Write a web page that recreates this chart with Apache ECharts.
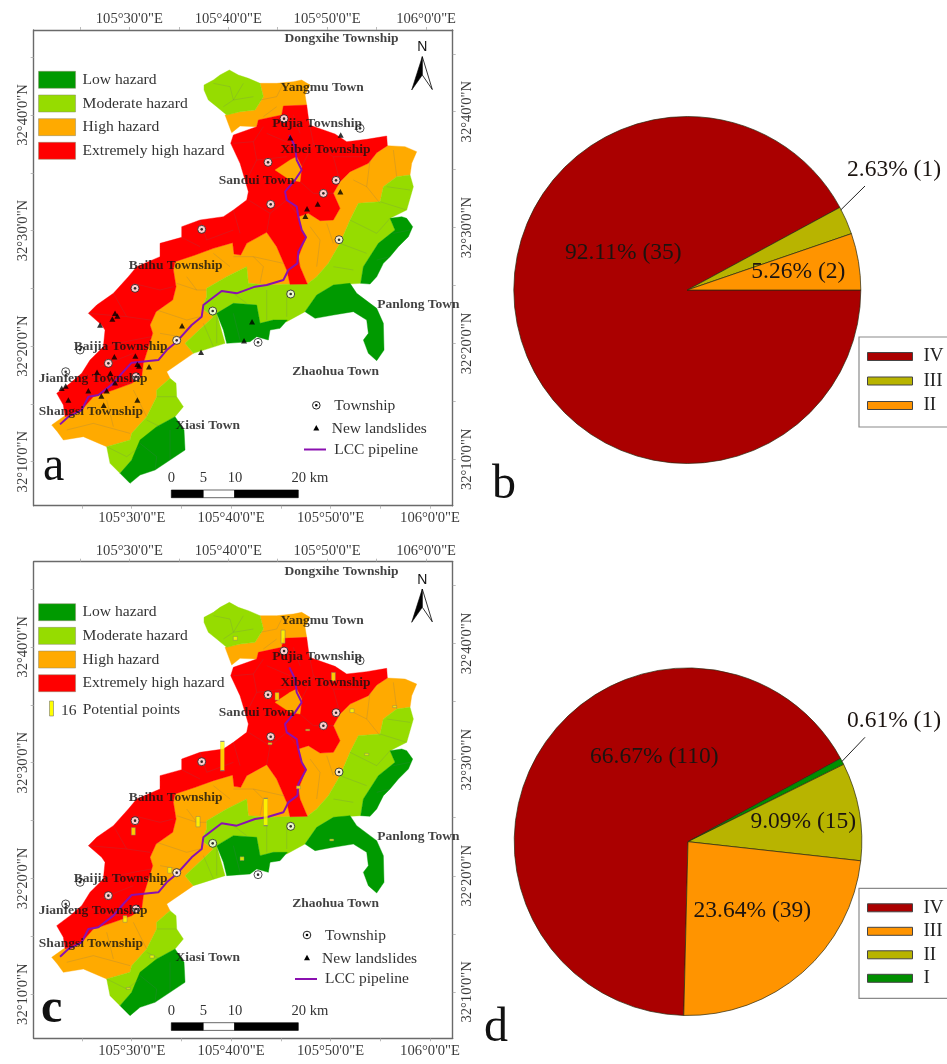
<!DOCTYPE html>
<html><head><meta charset="utf-8">
<style>html,body{margin:0;padding:0;background:#fff}#c{width:947px;height:1064px}</style>
<script src="https://cdn.jsdelivr.net/npm/echarts@6/dist/echarts.min.js"></script>
</head><body><div id="c"></div>
<script>
// ---- data (map units are a planar survey grid, y grows southwards) ----
const lowHazard = [
 [1170,655,1205,650,1220,655,1238,680,1225,710,1195,740,1170,770,1150,790,1130,830,1110,852,1082,850,1090,800,1135,730,1185,690],
 [915,935,950,885,1000,855,1050,850,1070,880,1130,925,1150,970,1152,1050,1130,1082,1105,1060,1090,1020,1105,1000,1100,960,1060,935,1000,945,945,955],
 [650,940,700,910,770,915,780,970,820,960,862,960,840,985,810,990,805,1020,770,1010,750,1025,680,1030,670,990],
 [525,1250,552,1290,555,1350,510,1380,465,1410,420,1425,390,1450,360,1420,395,1380,420,1320,470,1280]
];
const moderateHazard = [
 [612,255,640,240,660,225,688,210,715,225,745,235,780,250,790,290,765,330,720,335,680,345,650,320,625,300,612,270],
 [620,865,680,830,740,800,745,850,800,855,870,853,922,852,950,830,985,790,1020,730,1050,660,1075,610,1140,605,1150,560,1190,530,1230,525,1240,560,1220,630,1170,655,1185,690,1135,730,1090,800,1082,850,1000,855,950,885,915,935,860,965,820,960,780,970,770,915,700,910,650,940,675,1030,580,1060,555,1030,640,950,605,925,620,890],
 [510,1135,528,1150,530,1190,550,1220,525,1250,470,1280,440,1320,420,1340,395,1380,360,1420,330,1390,320,1340,390,1320,395,1300,440,1250,470,1190,470,1170]
];
const highHazard = [
 [780,250,830,250,880,245,905,240,930,255,915,285,920,315,850,318,845,345,775,360,770,380,720,378,695,398,675,345,720,335,765,330,790,290],
 [1162,437,1215,440,1250,455,1235,490,1230,525,1190,530,1150,560,1140,605,1075,610,1050,660,1020,730,985,790,950,830,922,852,900,800,895,770,918,712,905,690,895,650,925,640,960,662,1000,660,1020,625,1000,580,1020,545,1050,515,1105,490,1130,458],
 [525,785,640,745,698,728,702,762,722,765,740,730,800,697,830,740,860,810,870,853,800,855,745,850,740,800,680,830,620,865,620,890,605,925,640,950,555,1030,580,1060,500,1115,510,1135,470,1170,470,1190,440,1250,395,1300,390,1320,320,1340,250,1310,190,1320,172,1295,155,1275,190,1250,245,1230,280,1190,340,1170,395,1150,425,1130,430,1090,458,1000,450,975,468,935,518,900,528,860,520,810],
 [890,470,905,500,900,545,870,540,825,510,870,480]
];
const extremeHazard = [
 [850,318,920,315,928,375,1005,402,1040,425,1100,418,1160,408,1162,437,1130,458,1105,490,1050,515,1020,545,1000,580,1020,625,1000,660,960,662,925,640,895,650,905,690,918,712,895,770,900,800,922,852,870,853,860,810,830,740,800,697,740,730,722,765,702,762,698,728,640,745,585,765,525,785,520,810,528,860,518,900,468,935,450,975,458,1000,430,1090,425,1130,395,1150,340,1170,280,1190,245,1230,195,1250,190,1215,170,1180,210,1150,245,1120,270,1080,310,1040,315,990,305,975,265,940,290,915,340,880,385,830,410,800,480,770,480,730,545,712,545,680,600,660,670,650,700,630,740,600,745,575,735,540,720,490,692,430,700,405,770,380,775,360,845,345]
];
const streams = [
 [640,250,690,260,700,300,670,320],[700,300,760,290],[730,250,700,300],
 [780,300,830,290,850,250],[790,350,830,320],[700,430,760,425,790,380],[760,425,770,480,740,540],
 [800,400,870,430],[930,380,940,430,1000,470,1090,470],[940,430,905,500],[880,345,900,400],[770,480,860,470],
 [1000,470,1020,545],[900,545,940,580,1000,580],[745,600,810,640,860,600],[810,640,800,697],[860,600,890,640],
 [700,630,720,700],[600,660,620,720,700,690],[545,712,600,740],[400,850,480,870,520,860],[340,880,380,950,450,960],
 [265,940,380,950],[310,1040,400,1020,455,1010],[300,1100,400,1060],[245,1120,330,1150,395,1150],
 [560,830,590,870,620,870],[530,850,590,870],[470,930,560,960,600,950],[480,1000,540,1010],
 [760,770,790,800,780,850],[700,770,760,770,850,790],[640,760,690,800],[930,680,960,720,950,800],[980,670,1000,730],
 [1060,540,1100,560,1140,610],[1100,560,1110,480],[1180,450,1190,530],[1020,730,1100,760],[1050,660,1130,700,1170,655],
 [1140,605,1220,630],[1160,560,1230,570],[800,870,800,960],[860,870,860,950],[700,880,740,910],[610,970,640,1040],
 [650,950,650,1030],[1000,800,1060,810],[200,1290,280,1270,390,1300],[320,1200,340,1280],[400,1170,440,1250],
 [470,1190,530,1190],[320,1340,380,1370,420,1340],[440,1260,480,1280],[420,1330,470,1370,465,1410],[510,1290,510,1380],
 [700,940,720,1020],[1180,700,1230,690],[1130,780,1170,770]
];
const pipeline = [[868,405],[885,440],[890,480],[905,510],[885,540],[855,575],[860,600],[890,620],[895,650],[905,690],[918,712],[895,755],[892,790],[865,810],[850,840],[800,855],[765,860],[710,880],[665,873],[610,915],[605,950],[575,975],[530,1025],[500,1050],[475,1080],[395,1088],[370,1115],[340,1150],[295,1185],[265,1190],[245,1230],[205,1250],[180,1273]];
const townships = [[852,356],[1080,385],[804,487],[1008,541],[970,580],[812,613],[605,688],[1017,719],[405,865],[872,882],[638,933],[530,1021],[774,1027],[240,1050],[325,1090],[197,1115],[408,1130],[100,1265]];
const newLandslides = [[871,413],[1022,405],[1021,575],[953,612],[921,626],[916,649],[345,940],[352,948],[337,957],[300,975],[546,977],[756,965],[732,1022],[603,1057],[343,1070],[406,1068],[412,1093],[417,1098],[447,1100],[291,1117],[331,1120],[345,1148],[197,1158],[185,1165],[265,1172],[320,1172],[304,1188],[205,1200],[412,1200],[311,1216]];
const potentialPoints = [[706,318,4],[849,313,14],[1000,433,9],[831,492,8],[1056,535,4],[1184,523,2],[923,593,1],[810,634,2],[667,671,31],[1100,666,2],[895,765,3],[797,839,29],[594,868,11],[400,897,8],[995,923,2],[726,979,4],[509,1014,6],[375,1160,7],[456,1273,3],[385,1368,1]];
const placeNames = ['Dongxihe Township','Yangmu Town','Pujia Township','Xibei Township','Sandui Town','Baihu Township','Panlong Town','Baijia Township','Zhaohua Town','Jianfeng Township','Shangsi Township','Xiasi Town'];
const placeCoords = [[852,116],[840,264],[815,372],[840,450],[655,542],[385,796],[1130,912],[220,1038],[875,1113],[115,1135],[115,1235],[525,1275]];
const lonTicks = [30,40,50,60];
const lonLabels = ['105°30\'0"E','105°40\'0"E','105°50\'0"E','106°0\'0"E'];
const lonMinor = [25,30,35,40,45,50,55,60];
const latTicks = [10,20,30,40];
const latLabels = ['32°10\'0"N','32°20\'0"N','32°30\'0"N','32°40\'0"N'];
const latMinor = [10,15,20,25,30,35,40,45];
const hazardNames = ['Low hazard','Moderate hazard','High hazard','Extremely high hazard'];
const pieBNames = ['IV','III','II'];
const pieBCounts = [35,1,2];
const pieDNames = ['IV','I','II','III'];
const pieDCounts = [110,1,15,39];

// ---- styles ----
const SERIF = '"Liberation Serif","Times New Roman",serif';
const hazardColors = {'Low hazard':'#009a00','Moderate hazard':'#96dc00','High hazard':'#ffaa00','Extremely high hazard':'#ff0000'};
const RED='#aa0000', OLIVE='#b8b400', ORANGE='#ff9400', GREEN='#008f00';
const pieBColors = [RED,OLIVE,ORANGE];
const pieDColors = [RED,GREEN,OLIVE,ORANGE];

const flat = a => { const r=[]; for(let i=0;i<a.length;i+=2) r.push([a[i],a[i+1]]); return r; };
function polySeries(name, polys, x, y){
  return {type:'custom', name, xAxisIndex:x, yAxisIndex:y, silent:true, z:2, clip:true,
    itemStyle:{color:hazardColors[name]},
    data:polys.map((p,i)=>[i]),
    renderItem:(params,api)=>({type:'polygon',
      shape:{points:flat(polys[params.dataIndex]).map(c=>api.coord(c))},
      style:{fill:hazardColors[name],stroke:hazardColors[name],lineWidth:0.4}})};
}
function mapSeries(x,y,withLandslides,withPoints){
  const s=[
    polySeries('High hazard',highHazard.slice(0,3),x,y),
    polySeries('Moderate hazard',moderateHazard,x,y),
    polySeries('Low hazard',lowHazard,x,y),
    polySeries('Extremely high hazard',extremeHazard,x,y),
    Object.assign(polySeries('High hazard',highHazard.slice(3),x,y),{z:3}),
    {type:'custom',name:'streams',xAxisIndex:x,yAxisIndex:y,silent:true,z:4,data:streams.map((p,i)=>[i]),
      renderItem:(params,api)=>({type:'polyline',shape:{points:flat(streams[params.dataIndex]).map(c=>api.coord(c))},
        style:{fill:'none',stroke:'rgba(95,105,120,.38)',lineWidth:0.5}})},
    {type:'line',name:'LCC pipeline',xAxisIndex:x,yAxisIndex:y,data:pipeline,symbol:'none',silent:true,z:6,
      lineStyle:{color:'#8a10b0',width:2}},
    {type:'scatter',name:'Township',xAxisIndex:x,yAxisIndex:y,data:townships,symbol:'circle',symbolSize:8,silent:true,z:7,
      itemStyle:{color:'#fff',borderColor:'#222',borderWidth:1}},
    {type:'scatter',name:'Township dot',xAxisIndex:x,yAxisIndex:y,data:townships,symbol:'circle',symbolSize:2.6,silent:true,z:8,
      itemStyle:{color:'#000'}},
    {type:'scatter',name:'Places',xAxisIndex:x,yAxisIndex:y,symbolSize:1,silent:true,z:10,itemStyle:{color:'transparent'},
      data:placeNames.map((n,i)=>({name:n,value:placeCoords[i]})),
      label:{show:true,position:'right',distance:0,formatter:'{b}',fontFamily:SERIF,fontWeight:'bold',fontSize:13.5,color:'#111'},
      labelLayout:{hideOverlap:false}}
  ];
  if(withLandslides) s.push({type:'scatter',name:'New landslides',xAxisIndex:x,yAxisIndex:y,data:newLandslides,symbol:'triangle',symbolSize:[6,5.5],silent:true,z:7,itemStyle:{color:'#000'}});
  if(withPoints) s.push({type:'scatter',name:'Potential points',xAxisIndex:x,yAxisIndex:y,data:potentialPoints,symbol:'rect',symbolSize:v=>[4,Math.max(1.5,v[2]*0.94)],silent:true,z:6,itemStyle:{color:'#ffff00',borderColor:'#777',borderWidth:0.5}});
  return s;
}
function pieSeries(names,counts,colors,center,radius,startAngle,labelPos){
  const total=counts.reduce((a,b)=>a+b,0);
  return {type:'pie',center,radius,startAngle,clockwise:true,silent:true,avoidLabelOverlap:false,z:3,
    itemStyle:{borderColor:'#2a2a10',borderWidth:0.7},
    data:names.map((n,i)=>({name:n,value:counts[i],itemStyle:{color:colors[i]},label:{position:labelPos[i][2]?'outside':'inside'},labelLine:{show:false}})),
    label:{show:true,fontFamily:SERIF,fontSize:23.5,color:'#1c1410',
      formatter:p=>(p.value/total*100).toFixed(2)+'% ('+p.value+')'},
    labelLine:{show:false},
    labelLayout:p=>{const q=labelPos[p.dataIndex];return {x:q[0],y:q[1],align:'center',verticalAlign:'middle',hideOverlap:false};}};
}
function hazardLegend(top){
  return {left:38.3,top,orient:'vertical',padding:0,itemWidth:37,itemHeight:17,itemGap:2.67,selectedMode:false,icon:'rect',
    data:hazardNames.map(n=>({name:n,itemStyle:{color:hazardColors[n],borderColor:'#8a8a6a',borderWidth:0.5}})),
    textStyle:{fontFamily:SERIF,fontSize:15.6,color:'#333',lineHeight:17,padding:[4,0,0,2]}};
}
function pieLegend(top,names,colors,gap,bottomPad){
  return {left:859,top,orient:'vertical',padding:[10,6,bottomPad,8],itemWidth:45,itemHeight:8,itemGap:gap,selectedMode:false,icon:'rect',
    backgroundColor:'#fff',borderColor:'#8a8a8a',borderWidth:1.2,
    data:names.map((n,i)=>({name:n,itemStyle:{color:colors[i],borderColor:'#444',borderWidth:1}})),
    textStyle:{fontFamily:SERIF,fontSize:19,color:'#222',lineHeight:19,padding:[0,0,0,6]}};
}
function axes(g){
  const axisStyle={axisLine:{show:true,onZero:false,lineStyle:{color:'#6a6a6a',width:1.4}},splitLine:{show:false}};
  const lab={fontFamily:SERIF,fontSize:14.6,color:'#3a3a3a'};
  const lonAx=(pos,min,max,m)=>Object.assign({type:'value',gridIndex:g,position:pos,min,max,
    axisTick:{show:true,length:3,lineStyle:{color:'#aaa',width:0.8},customValues:lonMinor},
    axisLabel:Object.assign({show:true,margin:m,customValues:lonTicks,hideOverlap:false,showMinLabel:true,showMaxLabel:true,formatter:v=>lonLabels[lonTicks.indexOf(v)]},lab)},axisStyle);
  const latAx=(pos,min,max,m)=>Object.assign({type:'value',gridIndex:g,position:pos,min,max,
    axisTick:{show:true,length:3,lineStyle:{color:'#aaa',width:0.8},customValues:latMinor},
    axisLabel:Object.assign({show:true,margin:m,rotate:90,customValues:latTicks,hideOverlap:false,formatter:v=>latLabels[latTicks.indexOf(v)]},lab)},axisStyle);
  return {
    x:[lonAx('bottom',20.14,62.28,5),lonAx('top',20.33,62.69,3)],
    y:[latAx('left',6.19,47.36,3.5),latAx('right',6.0,47.05,7)]
  };
}
const FR={left:33.7,width:419};
const aFrame={top:30,height:475.7}, cFrame={top:561.7,height:476.6};
const aAx=axes(1), cAx=axes(3);
const hid=(g,min,max,inv)=>({type:'value',gridIndex:g,min,max,inverse:!!inv,show:false,splitLine:{show:false}});

const xAxis=[hid(0,101,1358),aAx.x[0],aAx.x[1],hid(2,101,1358),cAx.x[0],cAx.x[1]];
const yAxis=[hid(0,90,1517,true),aAx.y[0],aAx.y[1],hid(2,88,1518,true),cAx.y[0],cAx.y[1]];

// panel furniture: px coordinates
function furniture(dy,opts){
  const G=[];
  const T=(text,x,y,size,extra)=>G.push({type:'text',silent:true,z:20,x,y:y,style:Object.assign({text,font:size+'px '+SERIF,fill:'#333',textVerticalAlign:'middle'},extra||{})});
  G.push({type:'polygon',silent:true,z:20,shape:{points:[[422.3,56.7+dy],[411.7,90+dy],[422.3,75+dy]]},style:{fill:'#000',stroke:'#000',lineWidth:.6}});
  G.push({type:'polygon',silent:true,z:20,shape:{points:[[422.3,56.7+dy],[432.3,89.5+dy],[422.3,75+dy]]},style:{fill:'#fff',stroke:'#000',lineWidth:.8}});
  G.push({type:'text',silent:true,z:20,x:422.3,y:47.5+dy,style:{text:'N',font:'14px "Liberation Sans",sans-serif',fill:'#111',textAlign:'center',textVerticalAlign:'middle'}});
  [[171.3,32,'#000'],[203.3,31.3,'#fff'],[234.6,63.7,'#000']].forEach(r=>G.push({type:'rect',silent:true,z:20,shape:{x:r[0],y:490+opts.sbDy,width:r[1],height:7.7},style:{fill:r[2],stroke:'#000',lineWidth:.6}}));
  [['0',171.3],['5',203.3],['10',235],['20 km',310]].forEach(s=>T(s[0],s[1],478+opts.sbDy,14.6,{textAlign:'center'}));
  const k=opts.keys;
  G.push({type:'circle',silent:true,z:20,shape:{cx:k.cx,cy:k.y1,r:3.8},style:{fill:'#fff',stroke:'#222',lineWidth:1}});
  G.push({type:'circle',silent:true,z:20,shape:{cx:k.cx,cy:k.y1,r:1.3},style:{fill:'#000'}});
  T('Township',k.t1,k.y1+1,15.5);
  G.push({type:'polygon',silent:true,z:20,shape:{points:[[k.cx,k.y2-3],[k.cx-3,k.y2+2.5],[k.cx+3,k.y2+2.5]]},style:{fill:'#000'}});
  T('New landslides',k.t2,k.y2+1,15.5);
  G.push({type:'line',silent:true,z:20,shape:{x1:k.l1,y1:k.y3,x2:k.l2,y2:k.y3},style:{stroke:'#8a10b0',lineWidth:2}});
  T('LCC pipeline',k.t1,k.y3,15.5);
  return G;
}
const letter=(t,x,baseline,w)=>({type:'text',silent:true,z:20,x,y:baseline-13,style:{text:t,font:(w||'')+' 48px '+SERIF,fill:'#111',textVerticalAlign:'middle'}});
const leader=(x1,y1,x2,y2)=>({type:'line',silent:true,z:20,shape:{x1,y1,x2,y2},style:{stroke:'#222',lineWidth:1}});
const graphics=[].concat(
  furniture(0,{sbDy:0,keys:{cx:316.3,y1:405.3,t1:334.3,y2:428,t2:331.7,y3:449.5,l1:304,l2:326}}),
  furniture(532.3,{sbDy:532.7,keys:{cx:307,y1:935,t1:325,y2:957.7,t2:322,y3:979,l1:295,l2:317}}),
  [letter('a',43,480),letter('b',492,498),letter('c',41,1023,'bold'),letter('d',484,1041.5),
   leader(840.7,210,865,186),leader(841.7,761.7,865,737.3),
   {type:'rect',silent:true,z:20,shape:{x:49.5,y:701,width:4,height:15},style:{fill:'#ffff00',stroke:'#777',lineWidth:.6}},
   {type:'text',silent:true,z:20,x:61,y:710.5,style:{text:'16',font:'15.6px '+SERIF,fill:'#333',textVerticalAlign:'middle'}},
   {type:'text',silent:true,z:20,x:82.7,y:710,style:{text:'Potential points',font:'15.6px '+SERIF,fill:'#333',textVerticalAlign:'middle'}}]
);

const option={
  animation:false,backgroundColor:'#fff',
  grid:[
    {left:FR.left,width:FR.width,top:aFrame.top,height:aFrame.height},
    {left:FR.left,width:FR.width,top:aFrame.top,height:aFrame.height},
    {left:FR.left,width:FR.width,top:cFrame.top,height:cFrame.height},
    {left:FR.left,width:FR.width,top:cFrame.top,height:cFrame.height}
  ],
  xAxis,yAxis,
  legend:[hazardLegend(69.3),hazardLegend(601.7),
    pieLegend(337,['IV','III','II'],[RED,OLIVE,ORANGE],5.5,12),
    pieLegend(888.3,['IV','III','II','I'],[RED,ORANGE,OLIVE,GREEN],4.5,10.5)],
  graphic:graphics,
  series:[].concat(mapSeries(0,0,true,false),mapSeries(3,3,false,true),[
    pieSeries(pieBNames,pieBCounts,pieBColors,[687.3,290],173.5,0,[[623.3,252.7],[894,170,1],[798.3,271.7]]),
    pieSeries(pieDNames,pieDCounts,pieDColors,[688,841.7],173.8,268.6,[[654.3,756.7],[894,721,1],[803.3,821.7],[752.3,911]])
  ])
};
echarts.init(document.getElementById('c'),null,{renderer:'canvas'}).setOption(option);
</script></body></html>
